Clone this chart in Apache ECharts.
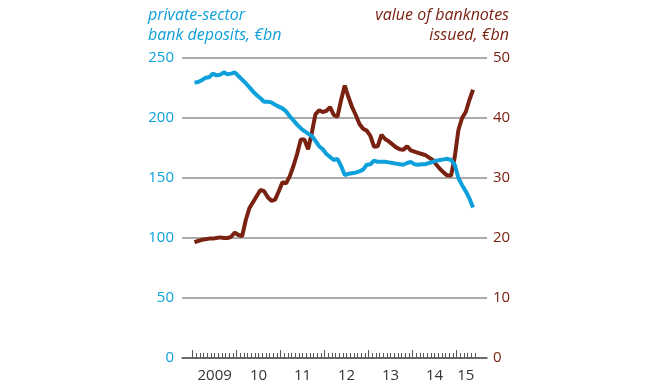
<!DOCTYPE html>
<html>
<head>
<meta charset="utf-8">
<script src="https://cdn.jsdelivr.net/npm/echarts@6/dist/echarts.min.js"></script>
<style>
html,body{margin:0;padding:0;background:#fff;}
#chart{width:650px;height:390px;}
</style>
</head>
<body>
<div id="chart"></div>
<script>
// Monthly data, Jan 2009 .. May 2015
var startYear = 2009;
var deposits = [229.5,230,231.5,233.5,234,237,235.5,236,238,236.5,237,238,
  235,232,229,225.5,222,219,216.5,213.5,213.5,213,211,209.5,
  208,205.5,201.5,198,194.5,191.5,189,187,185,181,176.5,174,
  170,167.5,165,166,160,152.5,153.5,154,154.5,155.5,157,161,
  161.5,164.5,163.5,163.5,163.5,163,162.5,162,161.5,161,162.5,163.5,
  161.5,161,161.5,161.5,162.5,163.5,164.5,165,165.5,166,165,161,
  150,144,139,133,125.5];
var banknotes = [19.3,19.5,19.7,19.8,19.9,19.9,20.0,20.1,20.0,20.0,20.2,20.9,
  20.5,20.3,23.0,25.0,26.0,27.0,28.0,27.8,26.8,26.2,26.4,27.8,
  29.3,29.1,30.3,32.0,34.0,36.4,36.4,34.8,37.5,40.6,41.3,41.0,
  41.2,41.8,40.5,40.2,43.0,45.4,43.5,41.8,40.5,39.0,38.2,37.9,
  37.0,35.2,35.3,37.2,36.5,36.1,35.6,35.1,34.8,34.7,35.3,34.6,
  34.4,34.2,34.0,33.8,33.4,33.0,32.2,31.5,30.9,30.4,30.4,33.5,
  38.0,40.0,41.0,43.0,44.7];
var xLabels = ['2009','10','11','12','13','14','15'];
var leftTicks = ['0','50','100','150','200','250'];
var rightTicks = ['0','10','20','30','40','50'];
var leftTitle = 'private-sector\nbank deposits, €bn';
var rightTitle = 'value of banknotes\nissued, €bn';

var BLUE = '#0ea0da';
var BROWN = '#7a2212';
var FONT = '"Open Sans", sans-serif';

function toPairs(arr){ return arr.map(function(v,i){ return [i + 0.5, v]; }); }
var nMonths = deposits.length;
var monthTicks = [];
for (var m = 0; m <= nMonths; m++) monthTicks.push(m);
var yearTicks = [];
for (var y = 0; y < nMonths; y += 12) yearTicks.push(y);
var labelPos = xLabels.map(function(l, k){
  var s = k * 12;
  var e = Math.min(s + 12, nMonths - 1);
  return (s + e) / 2 + (e - s < 12 ? 0.5 : 0);
});

var titleStyle = {fontFamily: FONT, fontStyle:'italic', fontWeight:'normal', fontSize:16, lineHeight:20};

var chart = echarts.init(document.getElementById('chart'), null, {renderer:'canvas'});
chart.setOption({
  animation: false,
  backgroundColor: '#fff',
  graphic: [
    {type:'text', left:148, top:5,
     style: Object.assign({text: leftTitle, fill: BLUE, textAlign:'left'}, {font: 'italic 16px "Open Sans", sans-serif', lineHeight:20})},
    {type:'text', right:141, top:5,
     style: Object.assign({text: rightTitle, fill: BROWN, textAlign:'right'}, {font: 'italic 16px "Open Sans", sans-serif', lineHeight:20})}
  ],
  grid: {left:182, right:163, top:58, bottom:32, containLabel:false},
  xAxis: [
    {type:'value', min:-2.9, max:80.3, position:'bottom',
     axisLine:{show:true, onZero:false, lineStyle:{color:'#555', width:1.5}},
     axisTick:{show:true, inside:true, length:5, customValues: monthTicks, lineStyle:{color:'#555', width:1}},
     axisLabel:{show:true, margin:10, customValues: labelPos, color:'#333', fontFamily: FONT, fontSize:15,
       formatter:function(v){ var k = labelPos.indexOf(v); return k >= 0 ? xLabels[k] : ''; }},
     splitLine:{show:false}},
    {type:'value', min:-2.9, max:80.3, position:'bottom',
     axisLine:{show:false, onZero:false},
     axisTick:{show:true, inside:true, length:8, customValues: yearTicks, lineStyle:{color:'#555', width:1}},
     axisLabel:{show:false},
     splitLine:{show:false}}
  ],
  yAxis: [
    {type:'value', min:0, max:250, interval:50, position:'left',
     axisLine:{show:false}, axisTick:{show:false},
     axisLabel:{color: BLUE, fontFamily: FONT, fontSize:15, margin:8,
       formatter:function(v){ return leftTicks[Math.round(v/50)]; }},
     splitLine:{show:true, lineStyle:{color:'#acacac', width:2}}},
    {type:'value', min:0, max:50, interval:10, position:'right',
     axisLine:{show:false}, axisTick:{show:false},
     axisLabel:{color: BROWN, fontFamily: FONT, fontSize:15, margin:6,
       formatter:function(v){ return rightTicks[Math.round(v/10)]; }},
     splitLine:{show:false}}
  ],
  series: [
    {type:'line', name:'banknotes', xAxisIndex:0, yAxisIndex:1, data: toPairs(banknotes),
     showSymbol:false, lineStyle:{color: BROWN, width:4}, itemStyle:{color: BROWN}},
    {type:'line', name:'deposits', xAxisIndex:0, yAxisIndex:0, data: toPairs(deposits),
     showSymbol:false, lineStyle:{color: BLUE, width:4}, itemStyle:{color: BLUE}}
  ]
});
</script>
</body>
</html>
